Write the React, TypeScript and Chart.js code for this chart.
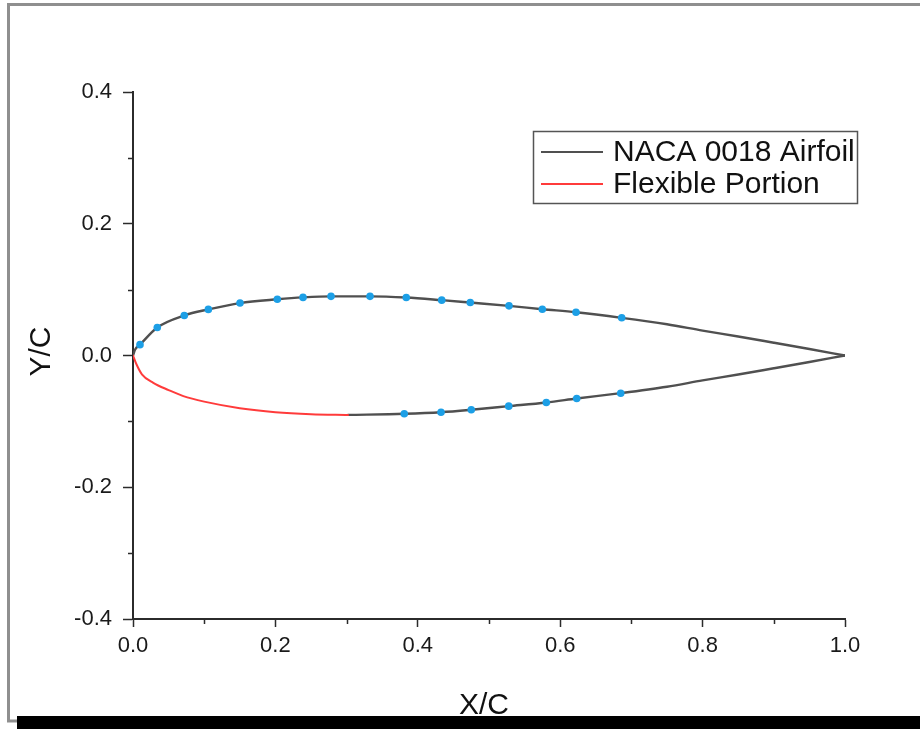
import { useEffect, useRef } from 'react';
import { Chart, registerables } from 'chart.js';

Chart.register(...registerables);

// Upper surface, leading edge to trailing edge
const UPPER_X = [0, 0.003, 0.0098, 0.0341, 0.072, 0.1058, 0.1503, 0.2027, 0.2388, 0.2781, 0.3329, 0.3838, 0.4336, 0.4737, 0.5281, 0.5749, 0.6222, 0.6864, 0.75, 0.8, 0.85, 0.9, 0.95, 1.0];
const UPPER_Y = [0, 0.0092, 0.0165, 0.0425, 0.0608, 0.07, 0.0796, 0.0853, 0.0882, 0.0898, 0.0898, 0.088, 0.084, 0.0804, 0.0754, 0.0703, 0.0657, 0.0572, 0.0474, 0.0378, 0.0289, 0.0194, 0.0098, 0];

// Rigid lower surface, aft of the flexible skin
const LOWER_X = [0.302, 0.381, 0.4326, 0.4751, 0.5277, 0.5805, 0.6232, 0.685, 0.75, 0.8, 0.85, 0.9, 0.95, 1.0];
const LOWER_Y = [-0.0902, -0.0885, -0.0861, -0.0824, -0.0769, -0.0713, -0.0653, -0.0572, -0.0474, -0.0378, -0.0289, -0.0194, -0.0098, 0];

// Flexible lower skin near the leading edge
const FLEX_X = [0, 0.005, 0.0125, 0.0285, 0.05, 0.0707, 0.1, 0.15, 0.2, 0.25, 0.302];
const FLEX_Y = [0, -0.0137, -0.0285, -0.0415, -0.0525, -0.0617, -0.07, -0.08, -0.086, -0.089, -0.0902];

// Surface sample points
const TAP_UPPER_X = [0.0098, 0.0341, 0.072, 0.1058, 0.1503, 0.2027, 0.2388, 0.2781, 0.3329, 0.3838, 0.4336, 0.4737, 0.5281, 0.5749, 0.6222, 0.6864];
const TAP_UPPER_Y = [0.0165, 0.0425, 0.0608, 0.07, 0.0796, 0.0853, 0.0882, 0.0898, 0.0898, 0.088, 0.084, 0.0804, 0.0754, 0.0703, 0.0657, 0.0572];
const TAP_LOWER_X = [0.381, 0.4326, 0.4751, 0.5277, 0.5805, 0.6232, 0.685];
const TAP_LOWER_Y = [-0.0885, -0.0861, -0.0824, -0.0769, -0.0713, -0.0653, -0.0572];

const X_TICKS = [0, 0.2, 0.4, 0.6, 0.8, 1.0];
const Y_TICKS = [-0.4, -0.2, 0, 0.2, 0.4];
const X_MINOR = [0.1, 0.3, 0.5, 0.7, 0.9];
const Y_MINOR = [-0.3, -0.1, 0.1, 0.3];

const LABEL_AIRFOIL = 'NACA 0018 Airfoil';
const LABEL_FLEX = 'Flexible Portion';
const TITLE_X = 'X/C';
const TITLE_Y = 'Y/C';

const W = 920;
const H = 729;
const AREA = { left: 133, top: 92, right: 845, bottom: 619 };

const FONT = '"Liberation Sans", Arial, sans-serif';
const GREY = '#505050';
const RED = '#ff3b3b';
const BLUE = '#1c9fe6';
const AXIS = '#2b2b2b';

const pts = (xs: number[], ys: number[]) => xs.map((x, i) => ({ x, y: ys[i] }));

// Page frame: thin grey top/left rule and a heavy dark strip along the bottom
const framePlugin = {
  id: 'frame',
  beforeDraw(chart: any) {
    const ctx = chart.ctx as CanvasRenderingContext2D;
    ctx.save();
    ctx.fillStyle = '#ffffff';
    ctx.fillRect(0, 0, W, H);
    ctx.strokeStyle = '#8f8f8f';
    ctx.lineWidth = 3;
    ctx.beginPath();
    ctx.moveTo(W, 4.5);
    ctx.lineTo(8.5, 4.5);
    ctx.lineTo(8.5, 721);
    ctx.lineTo(18, 721);
    ctx.stroke();
    ctx.fillStyle = '#000000';
    ctx.fillRect(17, 716, W - 17, H - 716);
    ctx.restore();
  },
};

// Short minor ticks between the labelled ones
const minorTickPlugin = {
  id: 'minorTicks',
  afterDraw(chart: any) {
    const ctx = chart.ctx as CanvasRenderingContext2D;
    const xs = chart.scales.x;
    const ys = chart.scales.y;
    const a = chart.chartArea;
    ctx.save();
    ctx.strokeStyle = AXIS;
    ctx.lineWidth = 1.5;
    ctx.beginPath();
    X_MINOR.forEach((v) => {
      const px = Math.round(xs.getPixelForValue(v)) + 0.5;
      ctx.moveTo(px, a.bottom);
      ctx.lineTo(px, a.bottom + 5);
    });
    Y_MINOR.forEach((v) => {
      const py = Math.round(ys.getPixelForValue(v)) + 0.5;
      ctx.moveTo(a.left, py);
      ctx.lineTo(a.left - 5, py);
    });
    ctx.stroke();
    ctx.restore();
  },
};

// Boxed legend inside the upper right of the plot
const LEGEND_ROWS = [
  { label: LABEL_AIRFOIL, color: GREY },
  { label: LABEL_FLEX, color: RED },
];

const boxLegendPlugin = {
  id: 'boxLegend',
  afterDraw(chart: any) {
    const ctx = chart.ctx as CanvasRenderingContext2D;
    const a = chart.chartArea;
    const left = a.right - 312;
    const top = a.top + 39;
    const w = 324;
    const h = 72;
    ctx.save();
    ctx.fillStyle = '#ffffff';
    ctx.fillRect(left, top, w, h);
    ctx.strokeStyle = '#555555';
    ctx.lineWidth = 1.5;
    ctx.strokeRect(left + 0.5, top + 0.5, w, h);
    LEGEND_ROWS.forEach((row, i) => {
      const y = top + 21 + i * 32;
      ctx.strokeStyle = row.color;
      ctx.lineWidth = 2;
      ctx.beginPath();
      ctx.moveTo(left + 8, y);
      ctx.lineTo(left + 70, y);
      ctx.stroke();
      ctx.fillStyle = '#111111';
      ctx.font = `30px ${FONT}`;
      ctx.textBaseline = 'middle';
      ctx.textAlign = 'left';
      ctx.fillText(row.label, left + 80, y + 1);
    });
    ctx.restore();
  },
};

// Axis titles placed by hand so they sit where the layout wants them
const axisTitlePlugin = {
  id: 'axisTitles',
  afterDraw(chart: any) {
    const ctx = chart.ctx as CanvasRenderingContext2D;
    const a = chart.chartArea;
    ctx.save();
    ctx.fillStyle = '#111111';
    ctx.font = `30px ${FONT}`;
    ctx.textAlign = 'center';
    ctx.textBaseline = 'middle';
    ctx.fillText(TITLE_X, (a.left + a.right) / 2 - 5, a.bottom + 87);
    ctx.translate(a.left - 91, (a.top + a.bottom) / 2 - 4);
    ctx.rotate(-Math.PI / 2);
    ctx.fillText(TITLE_Y, 0, 0);
    ctx.restore();
  },
};

export default function App() {
  const ref = useRef<HTMLCanvasElement>(null);

  useEffect(() => {
    document.body.style.margin = '0';
    const canvas = ref.current;
    if (!canvas) return;

    const lineStyle = {
      pointRadius: 0,
      cubicInterpolationMode: 'monotone',
      borderCapStyle: 'round',
      borderJoinStyle: 'round',
    };

    const chart = new Chart(canvas, {
      type: 'line',
      data: {
        datasets: [
          {
            label: 'taps',
            data: [...pts(TAP_UPPER_X, TAP_UPPER_Y), ...pts(TAP_LOWER_X, TAP_LOWER_Y)],
            showLine: false,
            pointRadius: 3.8,
            pointBackgroundColor: BLUE,
            pointBorderWidth: 0,
            order: 0,
          },
          {
            label: LABEL_FLEX,
            data: pts(FLEX_X, FLEX_Y),
            borderColor: RED,
            borderWidth: 2,
            order: 1,
            ...lineStyle,
          },
          {
            label: LABEL_AIRFOIL,
            data: pts(UPPER_X, UPPER_Y),
            borderColor: GREY,
            borderWidth: 2.4,
            order: 2,
            ...lineStyle,
          },
          {
            label: LABEL_AIRFOIL,
            data: pts(LOWER_X, LOWER_Y),
            borderColor: GREY,
            borderWidth: 2.4,
            order: 2,
            ...lineStyle,
          },
        ],
      },
      options: {
        responsive: false,
        animation: false,
        devicePixelRatio: 1,
        layout: { padding: { left: 0, top: AREA.top, right: W - AREA.right, bottom: 0 } },
        plugins: { legend: { display: false }, tooltip: { enabled: false } },
        scales: {
          x: {
            type: 'linear',
            min: 0,
            max: 1,
            afterBuildTicks: (s: any) => {
              s.ticks = X_TICKS.map((v) => ({ value: v }));
            },
            afterFit: (s: any) => {
              s.height = H - AREA.bottom;
            },
            ticks: {
              padding: 6,
              color: '#1a1a1a',
              font: { family: FONT, size: 22 },
              callback: (v: any) => Number(v).toFixed(1),
              maxRotation: 0,
            },
            grid: { drawOnChartArea: false, drawTicks: true, tickLength: 8, tickWidth: 1.5, tickColor: AXIS },
            border: { display: true, color: AXIS, width: 2 },
          },
          y: {
            type: 'linear',
            min: -0.4,
            max: 0.4,
            afterBuildTicks: (s: any) => {
              s.ticks = Y_TICKS.map((v) => ({ value: v }));
            },
            afterFit: (s: any) => {
              s.width = AREA.left;
            },
            ticks: {
              padding: 11,
              color: '#1a1a1a',
              font: { family: FONT, size: 22 },
              callback: (v: any) => Number(v).toFixed(1),
            },
            grid: { drawOnChartArea: false, drawTicks: true, tickLength: 10, tickWidth: 1.5, tickColor: AXIS },
            border: { display: true, color: AXIS, width: 2 },
          },
        },
      },
      plugins: [framePlugin, minorTickPlugin, boxLegendPlugin, axisTitlePlugin],
    } as any);

    // settle the plotting area on its intended edges
    const a = chart.chartArea;
    const pad: any = (chart.options.layout as any).padding;
    pad.top += AREA.top - a.top;
    pad.right += a.right - AREA.right;
    chart.update();

    return () => chart.destroy();
  }, []);

  return <canvas ref={ref} width={W} height={H} style={{ display: 'block' }} />;
}
